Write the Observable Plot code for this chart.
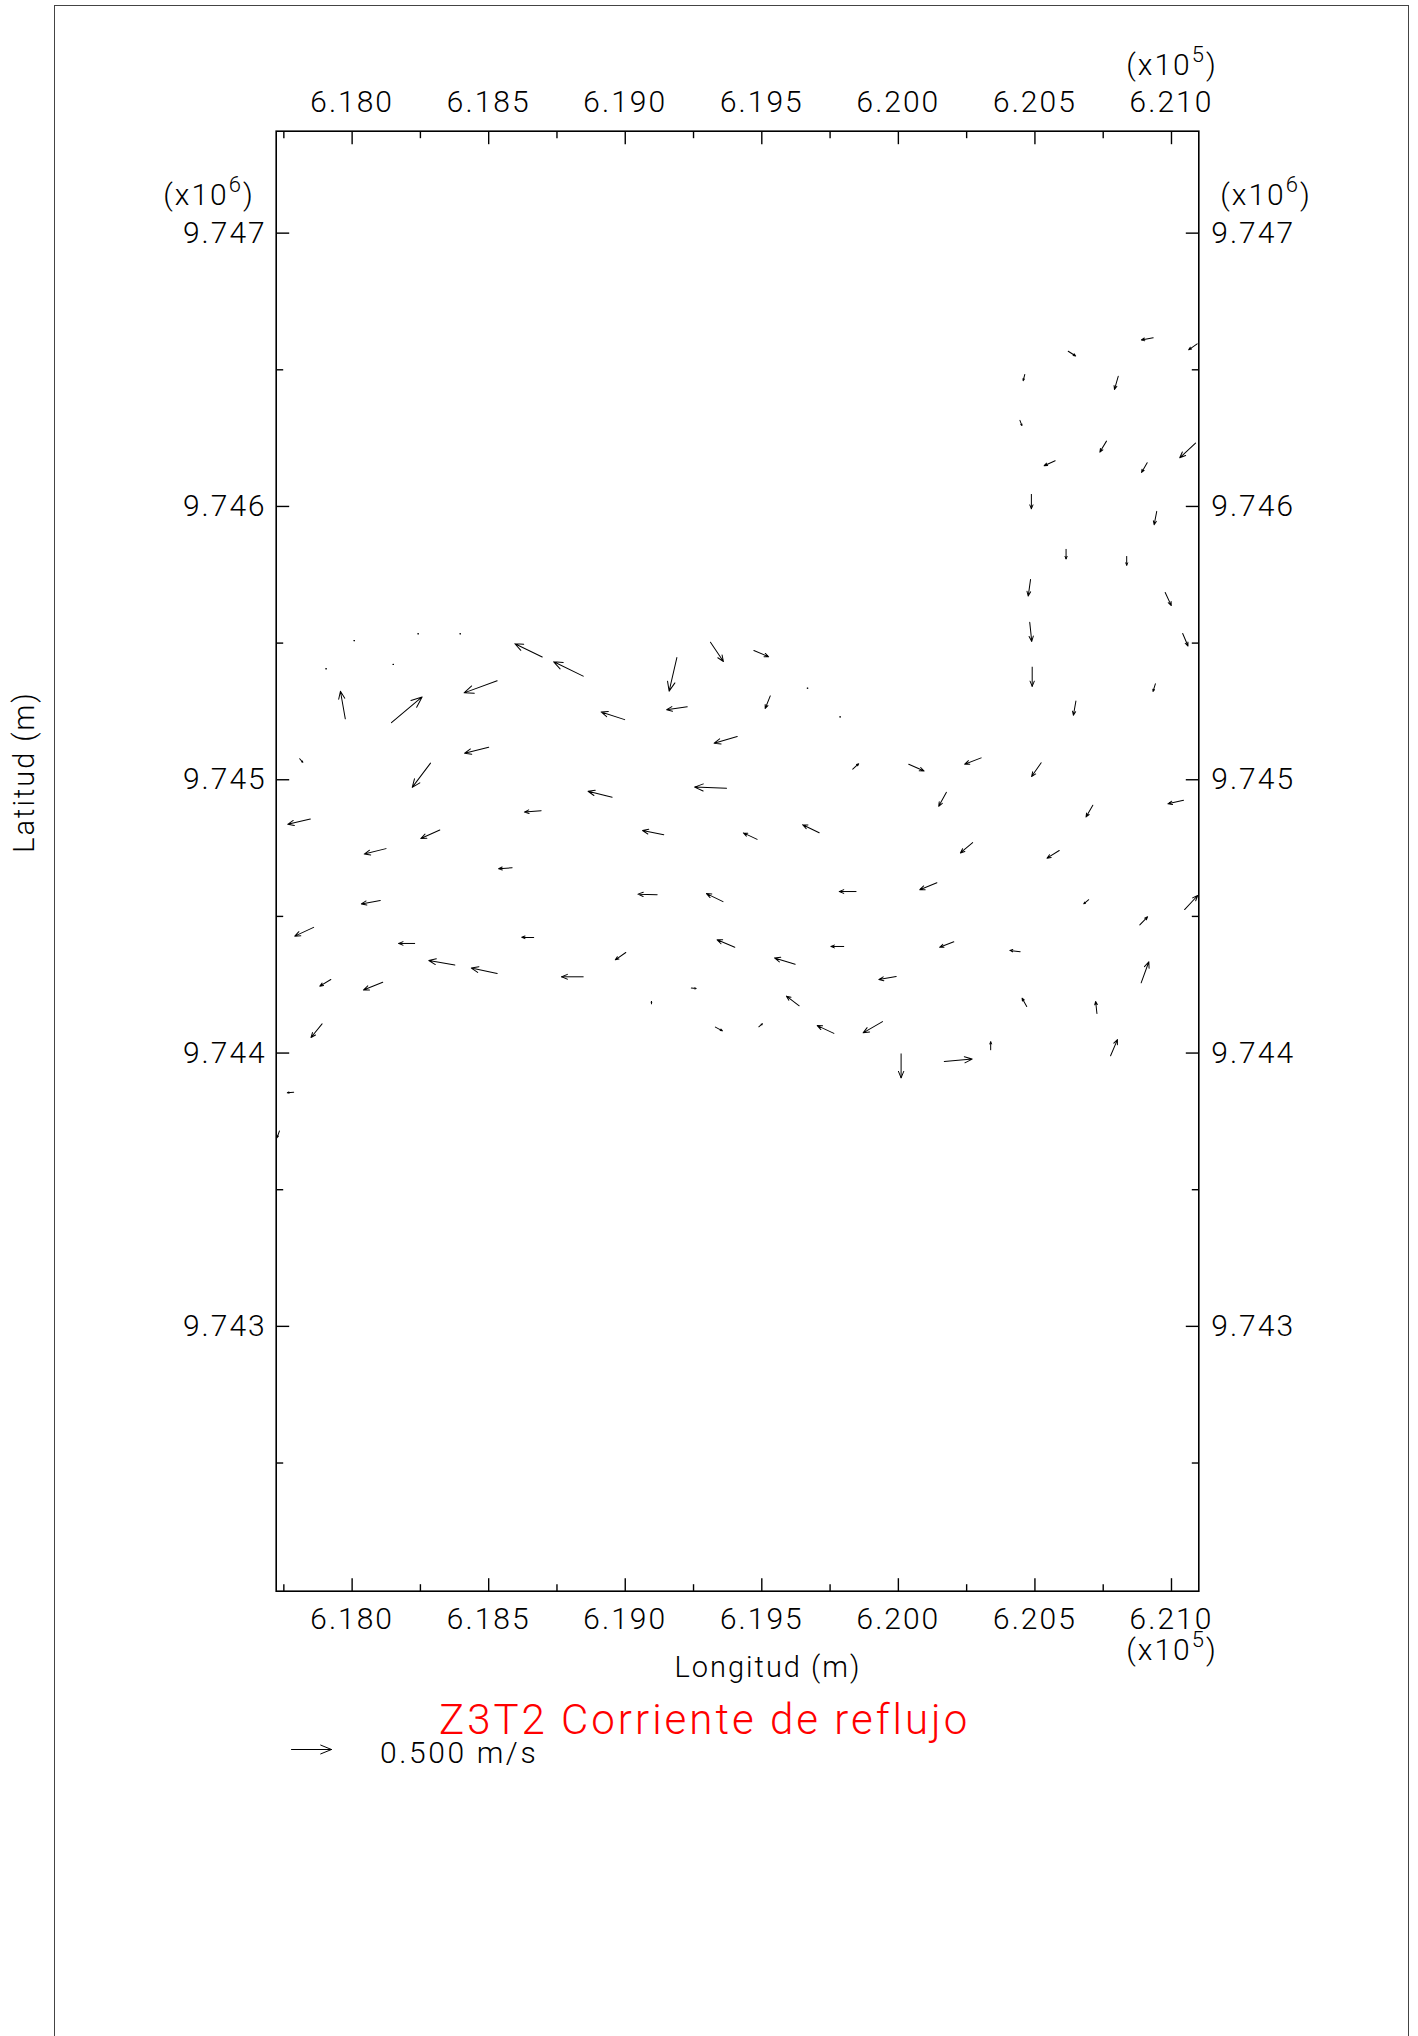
<!DOCTYPE html>
<html><head><meta charset="utf-8">
<script src="https://cdn.jsdelivr.net/npm/d3@7"></script>
<script src="https://cdn.jsdelivr.net/npm/@observablehq/plot@0.6"></script>
<style>
html,body{margin:0;padding:0;background:#fff;overflow:hidden;}
#wrap{position:relative;width:1418px;height:2036px;}
#wrap svg{position:absolute;left:0;top:0;}
#border{position:absolute;left:54px;top:5px;width:1355px;height:2040px;border-left:1px solid #444;border-top:1px solid #444;border-right:1px solid #444;box-sizing:border-box;pointer-events:none;}
</style></head>
<body><div id="wrap"></div>
<script>
// Current vectors: tail position (UTM metres), speed (m/s), direction (deg clockwise from north)
const lon = [618006,618240,618394,617903,618149,618696,618846,618531,617975,618144,
  619312,619471,619189,619666,619531,619785,619227,618998,619410,
  620933,621094,620622,620463,620805,620445,620762,621088,620574,620911,620487,620946,620614,620836,620484,620977,620481,621041,620490,620941,620650,
  617808,618500,618287,618952,618692,617847,618321,618124,618586,618103,617859,618229,618665,618376,618531,618846,617922,618112,617890,617786,617734,
  619833,619371,619141,619483,619710,619117,619358,619845,619401,619002,619800,619622,619992,619242,619637,619096,619330,619489,619764,619942,
  620038,620303,620523,620176,620712,621044,620272,620589,620141,620697,621048,620884,620203,620446,620889,620470,620727,620338,620777,620010,620168];
const lat = [9745509,9745534,9745534,9745406,9745422,9745449,9745379,9745362,9745223,9745209,
  9745503,9745473,9745447,9745335,9745307,9745230,9745267,9745220,9745158,
  9746617,9746595,9746568,9746483,9746476,9746315,9746239,9746232,9746167,9746160,9746044,9745982,9745843,9745817,9745733,9745685,9745576,9745535,9745412,9745351,9745288,
  9745077,9745119,9745061,9744936,9744887,9744856,9744816,9744748,9744678,9744558,9744460,9744401,9744423,9744322,9744291,9744279,9744269,9744259,9744107,9743857,9743715,
  9745039,9744969,9744799,9744782,9744806,9744579,9744554,9744591,9744387,9744368,9744390,9744325,9744280,9744238,9744173,9744180,9744095,9744096,9744072,9744115,
  9745057,9745080,9745062,9744954,9744907,9744925,9744770,9744741,9744623,9744561,9744525,9744469,9744407,9744371,9744257,9744170,9744145,9744012,9743990,9743997,9743969];
const speed = [0.01,0.01,0.01,0.01,0.01,0.38,0.41,0.44,0.35,0.50,
  0.29,0.20,0.43,0.01,0.17,0.01,0.26,0.31,0.30,
  0.15,0.13,0.11,0.08,0.17,0.07,0.16,0.27,0.15,0.14,0.18,0.17,0.12,0.11,0.21,0.18,0.24,0.17,0.24,0.10,0.18,
  0.06,0.31,0.38,0.31,0.21,0.29,0.26,0.28,0.17,0.24,0.26,0.20,0.15,0.33,0.33,0.27,0.16,0.26,0.22,0.08,0.09,
  0.10,0.40,0.27,0.19,0.23,0.24,0.23,0.21,0.24,0.16,0.16,0.27,0.22,0.06,0.20,0.03,0.10,0.06,0.23,0.28,
  0.21,0.22,0.21,0.20,0.17,0.20,0.20,0.18,0.23,0.08,0.24,0.14,0.19,0.13,0.28,0.12,0.15,0.10,0.22,0.30,0.35];
const dir = [90,90,90,90,90,296,296,250,350,50,
  146,113,193,90,202,90,262,288,254,
  260,235,123,195,196,159,211,227,246,210,180,191,180,180,188,155,174,157,180,197,190,
  139,256,217,284,265,257,246,256,266,260,245,270,271,280,282,270,239,248,219,264,200,
  48,272,281,295,296,272,296,270,293,235,270,287,260,96,307,0,118,49,295,240,
  114,249,215,209,210,257,230,238,248,231,43,44,249,277,20,331,354,0,23,180,85];

const xDomain = [617722, 621100];
const yDomain = [9742031, 9747373];
const xMajor = [618000, 618500, 619000, 619500, 620000, 620500, 621000];
const xMinor = [617750, 618250, 618750, 619250, 619750, 620250, 620750];
const yMajor = [9743000, 9744000, 9745000, 9746000, 9747000];
const yMinor = [9742500, 9743500, 9744500, 9745500, 9746500];
const xExp = "5", yExp = "6";
const legendSpeed = [0.5];
const legendText = "0.500 m/s";
const titleText = "Z3T2 Corriente de reflujo";
const xLabel = "Longitud (m)", yLabel = "Latitud (m)";

const arrowShape = {draw(ctx, l) {
  const h = 0.27 * l, w = 0.11 * l;
  ctx.moveTo(0, 0); ctx.lineTo(0, -l);
  ctx.moveTo(-w, h - l); ctx.lineTo(0, -l); ctx.lineTo(w, h - l);
}};
const tickShape = {draw(ctx, l) { ctx.moveTo(0, 0); ctx.lineTo(0, -l); }};
const idx = d3.range(lon.length);
const fmtX = d => (d / 1e5).toFixed(3), fmtY = d => (d / 1e6).toFixed(3);
const tk = {stroke: "black", strokeWidth: 1.4, anchor: "start", shape: tickShape, strokeLinecap: "butt"};
const axText = {tickSize: 0, label: null, fontSize: 30, fill: "black"};

const chart = Plot.plot({
  width: 1418, height: 2036,
  marginLeft: 275.7, marginRight: 219.7, marginTop: 130.7, marginBottom: 445.3,
  x: {domain: xDomain}, y: {domain: yDomain},
  length: {domain: [0, 0.5], range: [0, 40]},
  style: "font-family: Roboto, 'Liberation Sans', sans-serif; font-weight: 300; letter-spacing: 2px; background: transparent; color: black;",
  marks: [
    Plot.frame({stroke: "black", strokeWidth: 1.6}),
    Plot.vector(xMajor, {x: d => d, frameAnchor: "bottom", length: 13, rotate: 0, ...tk}),
    Plot.vector(xMinor, {x: d => d, frameAnchor: "bottom", length: 7, rotate: 0, ...tk}),
    Plot.vector(xMajor, {x: d => d, frameAnchor: "top", length: 13, rotate: 180, ...tk}),
    Plot.vector(xMinor, {x: d => d, frameAnchor: "top", length: 7, rotate: 180, ...tk}),
    Plot.vector(yMajor, {y: d => d, frameAnchor: "left", length: 13, rotate: 90, ...tk}),
    Plot.vector(yMinor, {y: d => d, frameAnchor: "left", length: 7, rotate: 90, ...tk}),
    Plot.vector(yMajor, {y: d => d, frameAnchor: "right", length: 13, rotate: 270, ...tk}),
    Plot.vector(yMinor, {y: d => d, frameAnchor: "right", length: 7, rotate: 270, ...tk}),
    Plot.axisX(xMajor, {anchor: "bottom", tickPadding: 16.6, tickFormat: fmtX, ...axText}),
    Plot.axisX(xMajor, {anchor: "top", tickPadding: 19, tickFormat: fmtX, ...axText}),
    Plot.axisY(yMajor, {anchor: "left", tickPadding: 9.5, tickFormat: fmtY, ...axText}),
    Plot.axisY(yMajor, {anchor: "right", tickPadding: 12.5, tickFormat: fmtY, ...axText}),
    Plot.vector(idx, {x: i => lon[i], y: i => lat[i], length: i => speed[i], rotate: i => dir[i],
      anchor: "start", shape: arrowShape, stroke: "black", strokeWidth: 1}),
    Plot.vector(legendSpeed, {length: d => d, rotate: 90, frameAnchor: "bottom-left", dx: 15.3, dy: 158.3,
      anchor: "start", shape: arrowShape, stroke: "black", strokeWidth: 1})
  ]
});

const svg = d3.select(chart);
function addText(x, y, segs, {anchor = "start", size = 30, fill = "black", ls = "2px", rotate = null} = {}) {
  const t = svg.append("text").attr("x", x).attr("y", y).attr("text-anchor", anchor)
    .attr("font-size", size).attr("fill", fill).style("letter-spacing", ls);
  if (rotate != null) t.attr("transform", `rotate(${rotate},${x},${y})`);
  segs.forEach(s => {
    const sp = t.append("tspan").text(s.t);
    if (s.size) sp.attr("font-size", s.size);
    if (s.dy) sp.attr("dy", s.dy);
  });
}
const mult = e => [{t: "(x10"}, {t: e, size: 22, dy: -13}, {t: ")", size: 30, dy: 13}];
addText(1172, 75, mult(xExp), {anchor: "middle"});
addText(1172, 1660, mult(xExp), {anchor: "middle"});
addText(209, 205, mult(yExp), {anchor: "middle"});
addText(1266, 205, mult(yExp), {anchor: "middle"});
addText(768, 1677, [{t: xLabel}], {anchor: "middle", size: 29});
addText(34, 772, [{t: yLabel}], {anchor: "middle", size: 29, rotate: -90});
addText(439, 1734, [{t: titleText}], {size: 42, fill: "#ff0000", ls: "3px"});
addText(380, 1763, [{t: legendText}], {size: 30, ls: "2.6px"});

const wrap = document.getElementById("wrap");
wrap.appendChild(chart);
const border = document.createElement("div");
border.id = "border";
wrap.appendChild(border);
</script>
</body></html>
